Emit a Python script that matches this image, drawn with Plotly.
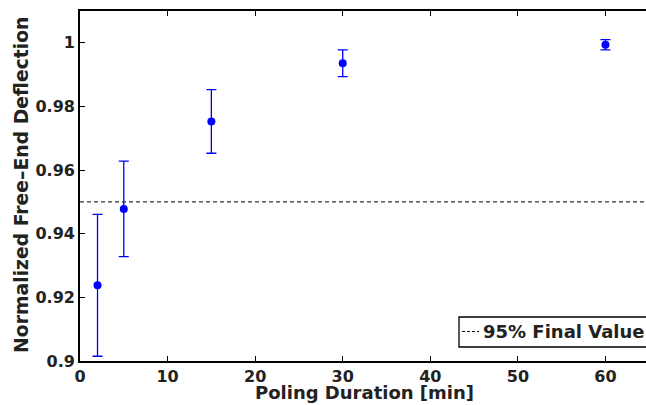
import plotly.graph_objects as go

# Data
durations = [2, 5, 15, 30, 60]
deflection = [0.9238, 0.9478, 0.9753, 0.9936, 0.9994]
errors = [0.0223, 0.0150, 0.0100, 0.0042, 0.0016]

threshold_x = [0, 66]
threshold_y = [0.95, 0.95]
threshold_name = "95% Final Value"

x_ticks = [0, 10, 20, 30, 40, 50, 60]
y_ticks = [0.90, 0.92, 0.94, 0.96, 0.98, 1.00]
y_tick_text = ["0.9", "0.92", "0.94", "0.96", "0.98", "1"]

x_title = "Poling Duration [min]"
y_title = "Normalized Free–End Deflection"

FONT = "DejaVu Sans"
TXT = "#222222"

fig = go.Figure()
fig.add_trace(go.Scatter(
    x=threshold_x, y=threshold_y, mode="lines", name=threshold_name,
    line=dict(color="black", width=1, dash="4px,3px"), showlegend=False,
))
fig.add_trace(go.Scatter(
    x=durations, y=deflection, mode="markers",
    marker=dict(color="#0000ff", size=8),
    error_y=dict(type="data", array=errors, visible=True,
                 color="#0000ff", thickness=1.3, width=5),
    showlegend=False,
))

# legend box drawn manually (box, dashed sample, label)
fig.add_shape(type="rect", xref="paper", yref="paper",
              x0=0.6696, x1=1.03, y0=0.04, y1=0.1257,
              line=dict(color="black", width=1.3), fillcolor="white", layer="above")
fig.add_shape(type="line", xref="paper", yref="paper",
              x0=0.675, x1=0.705, y0=0.0843, y1=0.0843,
              line=dict(color="black", width=1, dash="3px,2px"), layer="above")
fig.add_annotation(x=0.7085, y=0.0843, xref="paper", yref="paper",
                   xanchor="left", yanchor="middle", showarrow=False,
                   text=threshold_name,
                   font=dict(family=FONT, size=18, color=TXT, weight="bold"))

# axis titles as annotations for exact placement
fig.add_annotation(x=0.5035, y=-0.0914, xref="paper", yref="paper",
                   xanchor="center", yanchor="middle", showarrow=False,
                   text=x_title,
                   font=dict(family=FONT, size=18, color=TXT, weight="bold"))
fig.add_annotation(x=-0.1025, y=0.503, xref="paper", yref="paper",
                   xanchor="center", yanchor="middle", showarrow=False,
                   text=y_title, textangle=-90,
                   font=dict(family=FONT, size=18.8, color=TXT, weight="bold"))

fig.update_layout(
    width=646, height=405,
    margin=dict(l=80, r=0, t=11, b=44, autoexpand=False),
    plot_bgcolor="white", paper_bgcolor="white",
    font=dict(family=FONT, size=16, color=TXT, weight="bold"),
    hovermode=False,
)
fig.update_xaxes(
    range=[0, 64.63], tickvals=x_ticks, ticks="inside", ticklen=5,
    tickcolor="black", showline=True, linecolor="black", linewidth=1.7,
    mirror="ticks", showgrid=False, zeroline=False, automargin=False,
    tickfont=dict(family=FONT, size=16, color=TXT, weight="bold"),
)
fig.update_yaxes(
    range=[0.9, 1.01], tickvals=y_ticks, ticktext=y_tick_text,
    ticks="inside", ticklen=5, tickcolor="black",
    showline=True, linecolor="black", linewidth=1.7, mirror=False,
    showgrid=False, zeroline=False, automargin=False,
    tickfont=dict(family=FONT, size=16, color=TXT, weight="bold"),
)

# remove the page's default body margin so the figure sits at the window origin
fig.write_html(
    "out.html",
    config={"displayModeBar": False},
    post_script="document.body.style.margin='0';"
                "document.documentElement.style.overflow='hidden';"
                "document.body.style.overflow='hidden';",
)
